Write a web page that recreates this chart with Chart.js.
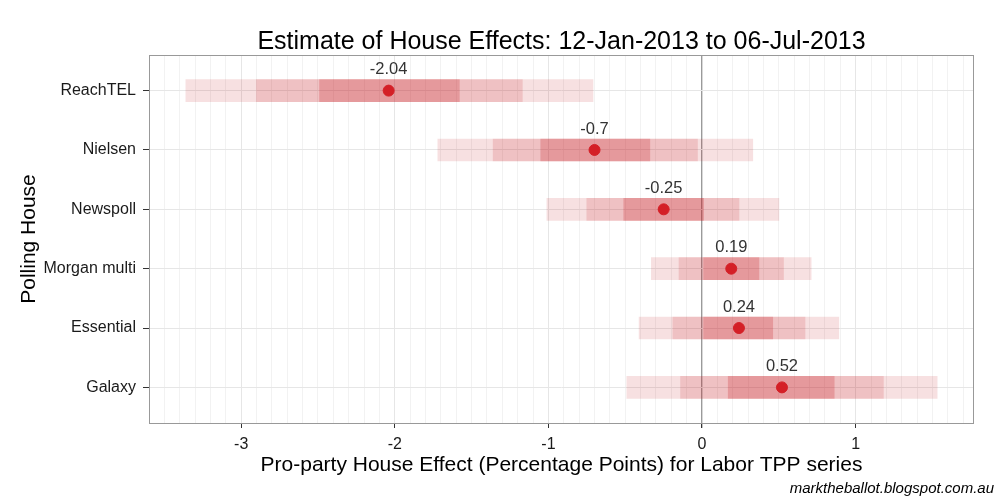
<!DOCTYPE html>
<html>
<head>
<meta charset="utf-8">
<script src="https://cdn.jsdelivr.net/npm/chart.js@4"></script>
<style>
  html, body { margin: 0; padding: 0; background: #fff; }
  #wrap { width: 1000px; height: 500px; }
</style>
</head>
<body>
<div id="wrap"><canvas id="chart" width="1000" height="500"></canvas></div>
<script>
// --- DATA ---
const houses = ['ReachTEL', 'Nielsen', 'Newspoll', 'Morgan multi', 'Essential', 'Galaxy'];
const effect = [-2.04, -0.70, -0.25, 0.19, 0.24, 0.52];
const effectLabels = ['-2.04', '-0.7', '-0.25', '0.19', '0.24', '0.52'];
const innerLo = [-2.49, -1.05, -0.51, 0.01, 0.01, 0.17];
const innerHi = [-1.58, -0.34, 0.01, 0.37, 0.46, 0.86];
const midLo = [-2.90, -1.36, -0.75, -0.15, -0.19, -0.14];
const midHi = [-1.17, -0.03, 0.24, 0.53, 0.67, 1.18];
const outerLo = [-3.36, -1.72, -1.01, -0.33, -0.41, -0.49];
const outerHi = [-0.71, 0.33, 0.50, 0.71, 0.89, 1.53];
const xTicks = [-3, -2, -1, 0, 1];
const xMinorTicks = [-3.6, -3.5, -3.4, -3.3, -3.2, -3.1, -3.0, -2.9, -2.8, -2.7, -2.6, -2.5, -2.4, -2.3, -2.2, -2.1,
  -2.0, -1.9, -1.8, -1.7, -1.6, -1.5, -1.4, -1.3, -1.2, -1.1, -1.0, -0.9, -0.8, -0.7, -0.6, -0.5, -0.4, -0.3,
  -0.2, -0.1, 0, 0.1, 0.2, 0.3, 0.4, 0.5, 0.6, 0.7, 0.8, 0.9, 1.0, 1.1, 1.2, 1.3, 1.4, 1.5, 1.6, 1.7];

const FONT = '"Liberation Sans", Arial, Helvetica, sans-serif';
const band = (lo, hi) => houses.map((_, i) => ({ x: [lo[i], hi[i]], y: i + 1 }));

// --- TEXT + FRAME PLUGIN ---
const decorations = {
  id: 'decorations',
  afterDatasetsDraw(chart) {
    const { ctx, chartArea: a, scales } = chart;
    ctx.save();
    // value labels above the points
    ctx.fillStyle = '#333';
    ctx.font = '16.5px ' + FONT;
    ctx.textAlign = 'center';
    ctx.textBaseline = 'middle';
    effect.forEach((v, i) => {
      ctx.fillText(effectLabels[i], scales.x.getPixelForValue(v), scales.y.getPixelForValue(i + 1) - 21);
    });
    // panel border
    ctx.strokeStyle = '#999';
    ctx.lineWidth = 1;
    ctx.strokeRect(a.left + 0.5, a.top + 0.5, a.right - a.left - 1, a.bottom - a.top);
    // title
    ctx.fillStyle = '#000';
    ctx.font = '25px ' + FONT;
    ctx.fillText('Estimate of House Effects: 12-Jan-2013 to 06-Jul-2013', (a.left + a.right) / 2, 42);
    // caption
    ctx.font = 'italic 15px ' + FONT;
    ctx.textAlign = 'right';
    ctx.fillText('marktheballot.blogspot.com.au', 994, 489);
    ctx.restore();
  }
};

window.onload = () => {
  const ctx = document.getElementById('chart').getContext('2d');
  new Chart(ctx, {
    type: 'bar',
    data: {
      datasets: [
        { type: 'scatter', data: houses.map((_, i) => ({ x: effect[i], y: i + 1 })),
          backgroundColor: '#d41f26', borderColor: '#d41f26', pointRadius: 5.5, pointHoverRadius: 5.5, order: 0 },
        { data: band(innerLo, innerHi), backgroundColor: 'rgba(200,30,39,0.245)', order: 1 },
        { data: band(midLo, midHi), backgroundColor: 'rgba(200,30,39,0.16)', order: 2 },
        { data: band(outerLo, outerHi), backgroundColor: 'rgba(200,30,39,0.138)', order: 3 }
      ]
    },
    options: {
      indexAxis: 'y',
      responsive: false,
      animation: false,
      datasets: { bar: { barThickness: 22, grouped: false, borderWidth: 0 } },
      layout: { padding: { top: 55, right: 26, left: 0, bottom: 0 } },
      plugins: { legend: { display: false }, tooltip: { enabled: false }, title: { display: false } },
      scales: {
        x2: {
          type: 'linear', position: 'top', min: -3.6, max: 1.77,
          afterBuildTicks: s => { s.ticks = xMinorTicks.map(v => ({ value: v })); },
          afterFit: s => { s.height = 0; },
          ticks: { display: false },
          border: { display: false },
          grid: { color: '#f2f2f2', lineWidth: 1, drawTicks: false }
        },
        x: {
          type: 'linear', position: 'bottom', min: -3.6, max: 1.77,
          afterBuildTicks: s => { s.ticks = xTicks.map(v => ({ value: v })); },
          afterFit: s => { s.height = 77; },
          ticks: { color: '#1a1a1a', font: { family: FONT, size: 16 }, padding: 7, callback: v => String(v) },
          border: { display: false },
          grid: {
            color: c => c.tick && c.tick.value === 0 ? '#9a9a9a' : '#e6e6e6',
            lineWidth: c => c.tick && c.tick.value === 0 ? 1.3 : 1,
            tickColor: '#333', tickLength: 5
          },
          title: {
            display: true, text: 'Pro-party House Effect (Percentage Points) for Labor TPP series',
            color: '#000', font: { family: FONT, size: 21 }, padding: { top: 2, bottom: 22 }
          }
        },
        y: {
          type: 'linear', min: 0.4, max: 6.6, reverse: true, offset: false,
          afterBuildTicks: s => { s.ticks = houses.map((_, i) => ({ value: i + 1 })); },
          afterFit: s => { s.width = 149; },
          ticks: { color: '#1a1a1a', font: { family: FONT, size: 16 }, padding: 7, callback: v => houses[v - 1] },
          border: { display: false },
          grid: { color: '#e6e6e6', tickColor: '#333', tickLength: 6, offset: false },
          title: {
            display: true, text: 'Polling House', color: '#000',
            font: { family: FONT, size: 21 }, padding: { top: 17, bottom: 8 }
          }
        }
      }
    },
    plugins: [decorations]
  });
};
</script>
</body>
</html>
